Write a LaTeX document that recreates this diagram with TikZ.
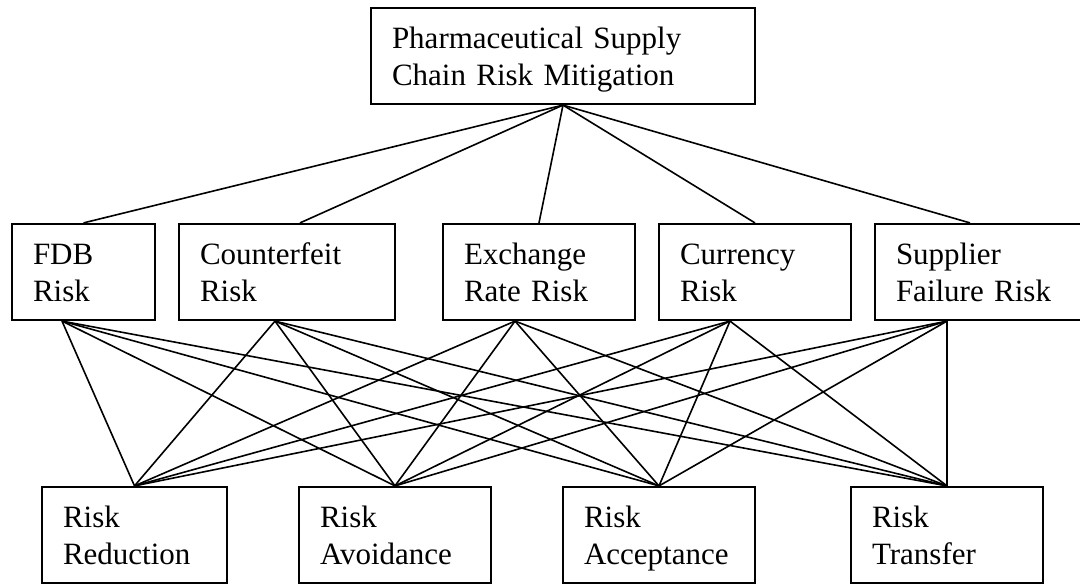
\documentclass[tikz,border=0pt]{standalone}
\usepackage{fontspec}
\setmainfont{Liberation Serif}
\usetikzlibrary{positioning}
\newcommand{\sr}{\rule[-7pt]{0pt}{35pt}}

\begin{document}
\begin{tikzpicture}[line width=1.6pt,
  b/.style={draw,line width=2.2pt,minimum height=96pt,inner xsep=21pt,inner ysep=0pt,align=left,
    font=\fontsize{31}{37}\selectfont,execute at begin node=\sr,execute at end node=\sr}]
  \useasboundingbox (0,0) rectangle (1080pt,-584pt);
  % goal
  \node[b,text width=342pt] (psc) at (563pt,-56pt) {Pharmaceutical Supply\\Chain Risk Mitigation};
  % risks
  \node[b,text width=101pt] (fdb) at (83.5pt,-272pt) {FDB\\Risk};
  \node[b,text width=174pt,right=21.8pt of fdb] (cf) {Counterfeit\\Risk};
  \node[b,text width=150pt,right=45.8pt of cf] (er) {Exchange\\Rate Risk};
  \node[b,text width=150pt,right=21.8pt of er] (cu) {Currency\\Risk};
  \node[b,text width=182pt,right=21.8pt of cu] (su) {Supplier\\Failure Risk};
  % strategies
  \node[b,text width=143pt] (rr) at (134.5pt,-535pt) {Risk\\Reduction};
  \node[b,text width=150pt,right=69.8pt of rr] (ra) {Risk\\Avoidance};
  \node[b,text width=150pt,right=69.8pt of ra] (rc) {Risk\\Acceptance};
  \node[b,text width=150pt,right=93.8pt of rc] (rt) {Risk\\Transfer};
  \draw(psc.south)--(fdb.north);\draw(psc.south)--([xshift=13pt]cf.north);\draw(psc.south)--(er.north);
  \draw(psc.south)--(cu.north);\draw(psc.south)--([xshift=-17pt]su.north);
  \draw([xshift=-21.5pt]fdb.south)--(rr.north);\draw([xshift=-21.5pt]fdb.south)--(ra.north);
  \draw([xshift=-21.5pt]fdb.south)--(rc.north);\draw([xshift=-21.5pt]fdb.south)--(rt.north);
  \draw([xshift=-12pt]cf.south)--(rr.north);\draw([xshift=-12pt]cf.south)--(ra.north);
  \draw([xshift=-12pt]cf.south)--(rc.north);\draw([xshift=-12pt]cf.south)--(rt.north);
  \draw([xshift=-24pt]er.south)--(rr.north);\draw([xshift=-24pt]er.south)--(ra.north);
  \draw([xshift=-24pt]er.south)--(rc.north);\draw([xshift=-24pt]er.south)--(rt.north);
  \draw([xshift=-25pt]cu.south)--(rr.north);\draw([xshift=-25pt]cu.south)--(ra.north);
  \draw([xshift=-25pt]cu.south)--(rc.north);\draw([xshift=-25pt]cu.south)--(rt.north);
  \draw([xshift=-40pt]su.south)--(rr.north);\draw([xshift=-40pt]su.south)--(ra.north);
  \draw([xshift=-40pt]su.south)--(rc.north);\draw([xshift=-40pt]su.south)--(rt.north);
\end{tikzpicture}
\end{document}
